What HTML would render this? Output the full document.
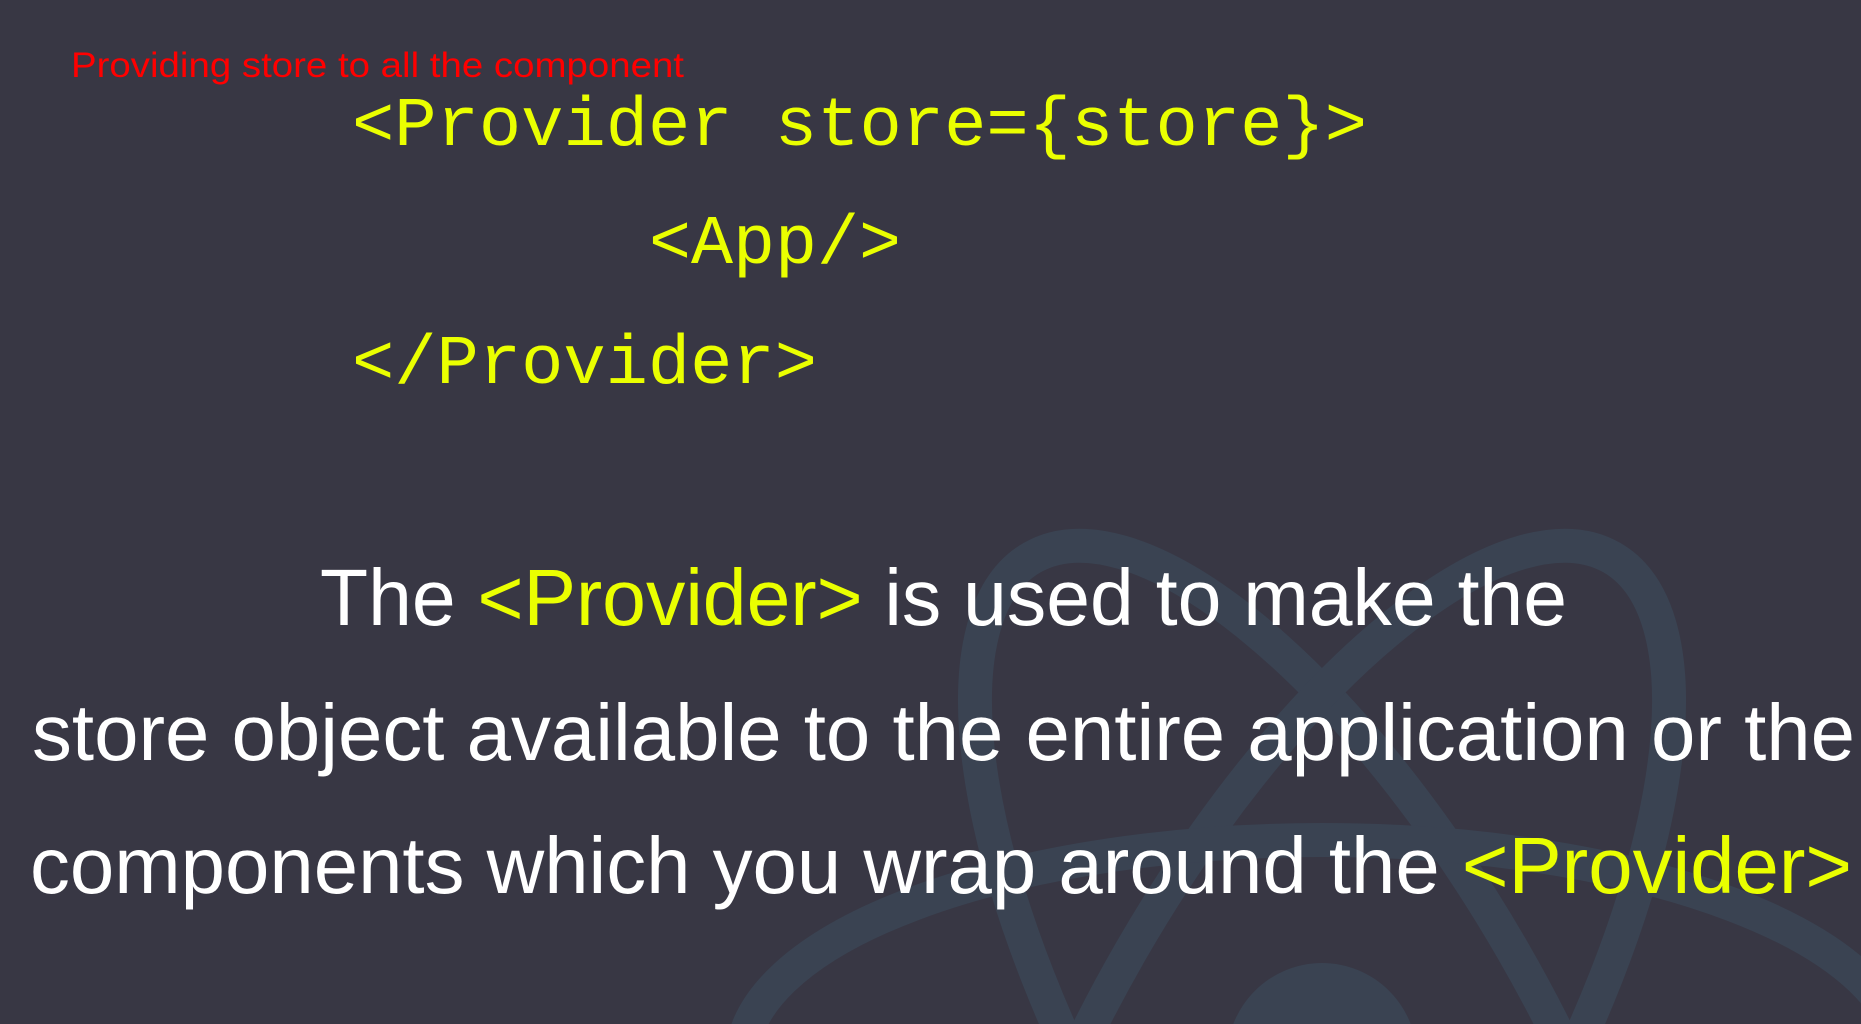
<!DOCTYPE html>
<html><head><meta charset="utf-8"><style>
html,body{margin:0;padding:0;background:#383744;width:1861px;height:1024px;overflow:hidden}
svg{display:block}
</style></head><body>
<svg width="1861" height="1024" viewBox="0 0 1861 1024" xmlns="http://www.w3.org/2000/svg">
<rect width="1861" height="1024" fill="#383744"/>
<g fill="none" stroke="#3a4352" stroke-width="34">
<ellipse cx="1322" cy="1060" rx="580" ry="220" transform="rotate(60 1322 1060)"/>
<ellipse cx="1322" cy="1060" rx="580" ry="220" transform="rotate(120 1322 1060)"/>
<ellipse cx="1322" cy="1060" rx="580" ry="220"/>
</g>
<circle cx="1322" cy="1058" r="95" fill="#3a4352"/>
<text x="71" y="77" fill="#ff0000" font-family="Liberation Sans, sans-serif" font-size="35" textLength="613" lengthAdjust="spacingAndGlyphs">Providing store to all the component</text>
<g fill="#eaff00" font-family="Liberation Mono, monospace" font-size="70">
<text x="352" y="145" textLength="1015" lengthAdjust="spacingAndGlyphs">&lt;Provider store={store}&gt;</text>
<text x="649" y="263" textLength="252" lengthAdjust="spacingAndGlyphs">&lt;App/&gt;</text>
<text x="352" y="383" textLength="465" lengthAdjust="spacingAndGlyphs">&lt;/Provider&gt;</text>
</g>
<g font-family="Liberation Sans, sans-serif" font-size="80" fill="#ffffff">
<text x="320" y="625" textLength="1247" lengthAdjust="spacingAndGlyphs">The <tspan fill="#eaff00">&lt;Provider&gt;</tspan> is used to make the</text>
<text x="32" y="760" textLength="1823" lengthAdjust="spacingAndGlyphs">store object available to the entire application or the</text>
<text x="30" y="893" textLength="1822" lengthAdjust="spacingAndGlyphs">components which you wrap around the <tspan fill="#eaff00">&lt;Provider&gt;</tspan></text>
</g>
</svg>
</body></html>
